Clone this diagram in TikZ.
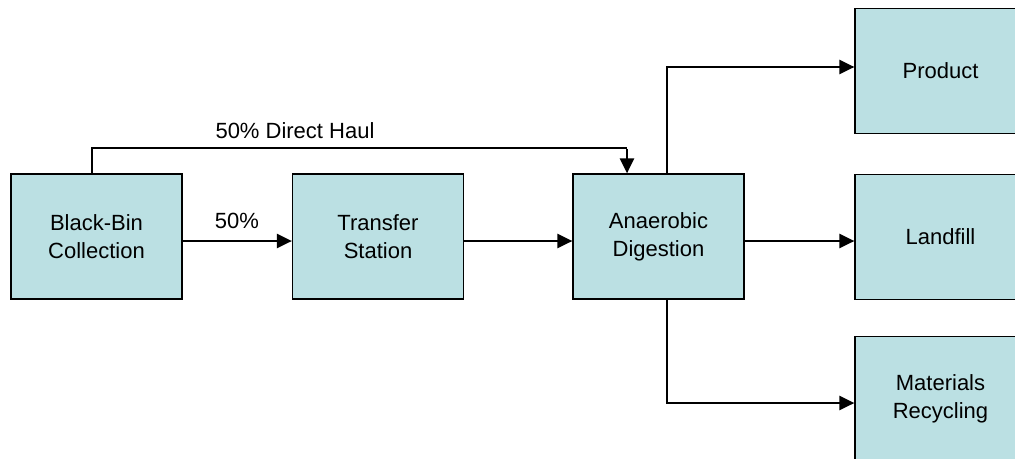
\documentclass[tikz,border=0pt]{standalone}
\usepackage{fontspec}
\setmainfont{Liberation Sans}
\usetikzlibrary{arrows.meta,calc}
\begin{document}
\begin{tikzpicture}[x=1pt,y=-1pt,
  box/.style={draw=black,line width=1.2pt,fill=boxfill,minimum width=171pt,minimum height=125pt,inner sep=0pt,align=center,font=\fontsize{22}{28}\selectfont},
  flow/.style={line width=2.5pt,-{Triangle[length=15pt,width=14pt]}},
  thin/.style={line width=1.5pt},
  lbl/.style={font=\fontsize{22}{26}\selectfont,inner sep=0pt}]
\definecolor{boxfill}{RGB}{187,224,227}
\useasboundingbox (0,0) rectangle (1015,458);
\node[box] (bb) at (96.5,236.5) {Black-Bin\\Collection};
\node[box] (ts) at (378,236.5) {Transfer\\Station};
\node[box] (ad) at (658.5,236.5) {Anaerobic\\Digestion};
\node[box] (pr) at (940.5,71) {Product};
\node[box] (lf) at (940.5,237) {Landfill};
\node[box] (mr) at (940.5,399) {Materials\\Recycling};
\coordinate (bbt) at (92,148);
\coordinate (adt) at (627,148);
\coordinate (adup) at (667,67);
\coordinate (addn) at (667,403);
\draw[flow] ($(bb.east)+(0,4.5)$) -- ($(ts.west)+(0,4.5)$);
\draw[flow] ($(ts.east)+(0,4.5)$) -- ($(ad.west)+(0,4.5)$);
\draw[flow] ($(ad.east)+(0,4.5)$) -- ($(lf.west)+(0,4)$);
\draw[thin] (bb.north -| bbt) -- (bbt) -- (adt);
\draw[flow] ([yshift=-0.75pt]adt) -- (adt |- ad.north);
\draw[thin] (ad.north -| adup) -- (adup);
\draw[flow] ([xshift=-0.75pt]adup) -- (adup -| pr.west);
\draw[thin] (ad.south -| addn) -- (addn);
\draw[flow] ([xshift=-0.75pt]addn) -- (addn -| mr.west);
\node[lbl] (l50) at (237,221) {50\%};
\node[lbl] (ldh) at (295,131) {50\% Direct Haul};
\end{tikzpicture}
\end{document}
